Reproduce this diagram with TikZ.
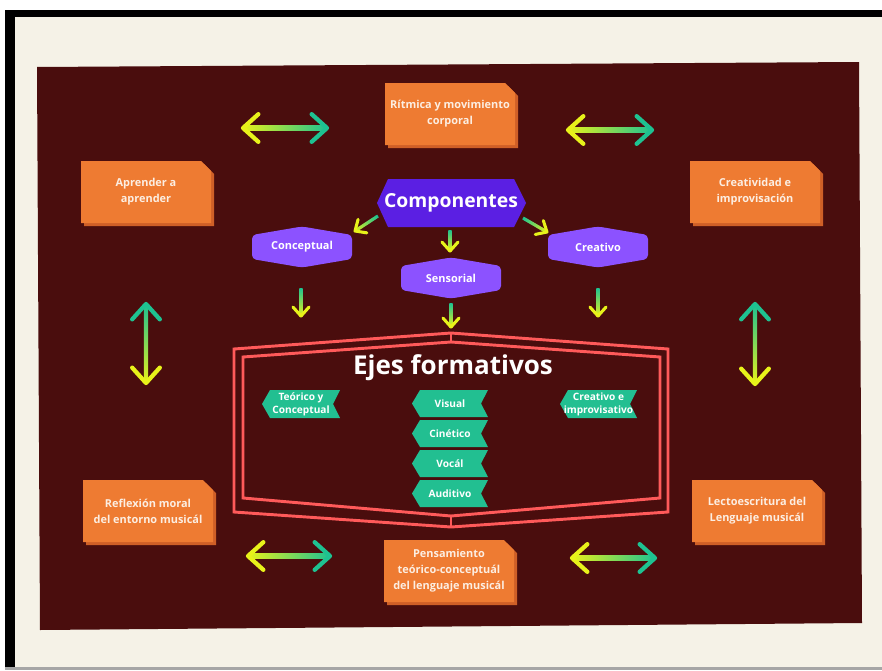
\documentclass[tikz,border=0pt]{standalone}
\usepackage{fontspec}
\setmainfont{Open Sans}
\usetikzlibrary{calc}
\definecolor{maroonbg}{HTML}{4A0D0D}
\definecolor{creambg}{HTML}{F5F2E7}
\definecolor{orng}{HTML}{EE7B32}
\definecolor{orngdark}{HTML}{CF5F27}
\definecolor{otxt}{HTML}{FCEEE2}
\definecolor{purp}{HTML}{5B1FE3}
\definecolor{lpurp}{HTML}{8C52FF}
\definecolor{tealc}{HTML}{22BF91}
\definecolor{ylw}{HTML}{E8F21A}
\definecolor{grn}{HTML}{1EC291}
\definecolor{redl}{HTML}{FF5A5A}

\newcommand\gradline[5]{%
  \foreach \i in {0,...,24}{%
    \pgfmathsetmacro\gpa{\i/25}%
    \pgfmathsetmacro\gpb{min((\i+1.6)/25,1)}%
    \pgfmathtruncatemacro\gpc{100-\i*4}%
    \draw[line width=#5, draw=#3!\gpc!#4] ($(#1)!\gpa!(#2)$) -- ($(#1)!\gpb!(#2)$);
  }}
\newcommand\arrowhead[5]{%
  \draw[line width=#4, draw=#3, line cap=round, line join=round]
    ($(#1)!#5!42:(#2)$) -- (#1) -- ($(#1)!#5!-42:(#2)$);}
\newcommand\hbiarrow[4]{% start, end, left colour, right colour
  \shade[left color=#3, right color=#4] ($(#1)+(0,-2.1)$) rectangle ($(#2)+(0,2.1)$);
  \arrowhead{#1}{#2}{#3}{3.2pt}{15.5pt}%
  \arrowhead{#2}{#1}{#4}{3.2pt}{15.5pt}}
\newcommand\vbiarrow[4]{% start(top), end(bottom), top colour, bottom colour
  \shade[top color=#3, bottom color=#4] ($(#1)+(-2.1,0)$) rectangle ($(#2)+(2.1,0)$);
  \arrowhead{#1}{#2}{#3}{3.2pt}{15.5pt}%
  \arrowhead{#2}{#1}{#4}{3.2pt}{15.5pt}}
\newcommand\oneway[2]{% tail, tip (diagonal)
  \gradline{#1}{#2}{grn}{ylw}{2.3pt}%
  \arrowhead{#2}{#1}{ylw}{2.3pt}{9pt}}
\newcommand\downway[2]{% tail, tip (vertical)
  \shade[top color=grn, bottom color=ylw] ($(#1)+(-1.55,0)$) rectangle ($(#2)+(1.55,0)$);
  \arrowhead{#2}{#1}{ylw}{2.3pt}{9pt}}
\newcommand\obox[4]{% name, cx, cy, text
  \fill[orngdark] (#2-62,#3-28) -- (#2+58,#3-28) -- (#2+68,#3-18) -- (#2+68,#3+34) -- (#2-62,#3+34) -- cycle;
  \fill[orng] (#2-65,#3-31) -- (#2+55,#3-31) -- (#2+65,#3-21) -- (#2+65,#3+31) -- (#2-65,#3+31) -- cycle;
  \node[otext] (#1) at (#2,#3) {#4};}
\newcommand\lhex[4]{% name, cx, cy, text
  \fill[lpurp, rounded corners=3pt] (#2-50,#3-12) -- (#2,#3-20.5) -- (#2+50,#3-12) -- (#2+50,#3+12) -- (#2,#3+20.5) -- (#2-50,#3+12) -- cycle;
  \node[ptext] (#1) at (#2,#3) {#4};}
\newcommand\ttag[6]{% name, L, R, T, B, text
  \fill[tealc] (#2,{(#4+#5)/2}) -- (#2+8,#4) -- (#3,#4) -- (#3-7,{(#4+#5)/2}) -- (#3,#5) -- (#2+8,#5) -- cycle;
  \node[ttext] (#1) at ({(#2+#3)/2},{(#4+#5)/2}) {#6};}

\begin{document}
\begin{tikzpicture}[x=0.75pt,y=-0.75pt,
  otext/.style={align=center, text=otxt, font=\bfseries\fontsize{8.2}{12}\selectfont, inner sep=0pt},
  ptext/.style={text=white, font=\bfseries\fontsize{8.2}{10}\selectfont, inner sep=0pt},
  ttext/.style={align=center, text=white, font=\bfseries\fontsize{7.6}{9.75}\selectfont, inner sep=0pt},
  frameline/.style={draw=redl, line width=2.2pt, line join=miter}]
\useasboundingbox (0,0) rectangle (882,671);
% paper and frame
\fill[white] (0,0) rectangle (882,671);
\fill[creambg] (15,17) rectangle (882,667);
\fill[black] (5,10) rectangle (882,17);
\fill[black] (5,10) rectangle (15,669);
\fill[gray!70] (5,667) rectangle (882,670);
\fill[maroonbg] (37,67) -- (859,62) -- (862,623) -- (40,630) -- cycle;

% orange boxes
\obox{rit}{450}{114}{Rítmica y movimiento\\corporal}
\obox{apr}{146}{192}{Aprender a\\aprender}
\obox{cre}{755}{192}{Creatividad e\\improvisación}
\obox{ref}{148}{511}{Reflexión moral\\del entorno musicál}
\obox{pen}{449}{571}{Pensamiento\\teórico-conceptuál\\del lenguaje musicál}
\obox{lec}{757}{511}{Lectoescritura del\\Lenguaje musicál}

% big double arrows
\coordinate (a1s) at (243,128); \coordinate (a1e) at (327,128);
\coordinate (a2s) at (568,130); \coordinate (a2e) at (652,130);
\coordinate (a3s) at (146,304); \coordinate (a3e) at (146,383);
\coordinate (a4s) at (755,304); \coordinate (a4e) at (755,384);
\coordinate (a5s) at (248,556); \coordinate (a5e) at (330,556);
\coordinate (a6s) at (572,558); \coordinate (a6e) at (655,558);
\hbiarrow{a1s}{a1e}{ylw}{grn}
\hbiarrow{a2s}{a2e}{ylw}{grn}
\vbiarrow{a3s}{a3e}{grn}{ylw}
\vbiarrow{a4s}{a4e}{grn}{ylw}
\hbiarrow{a5s}{a5e}{ylw}{grn}
\hbiarrow{a6s}{a6e}{ylw}{grn}

% Componentes
\fill[purp] (377,203) -- (388,179) -- (514,179) -- (526,203) -- (514,227) -- (388,227) -- cycle;
\node[text=white, font=\bfseries\fontsize{14.5}{16}\selectfont, inner sep=0pt] (comp) at (451,203) {Componentes};
\lhex{concep}{302}{247}{Conceptual}
\lhex{sens}{451}{278}{Sensorial}
\lhex{creat}{598}{247}{Creativo}

% small arrows
\coordinate (c1t) at (378,216); \coordinate (c1h) at (355,231);
\coordinate (c2t) at (450,230); \coordinate (c2h) at (450,251);
\coordinate (c3t) at (523,218); \coordinate (c3h) at (547,232);
\coordinate (d1t) at (301,288); \coordinate (d1h) at (301,316);
\coordinate (d2t) at (451,303); \coordinate (d2h) at (451,327);
\coordinate (d3t) at (598,288); \coordinate (d3h) at (598,316);
\oneway{c1t}{c1h}
\downway{c2t}{c2h}
\oneway{c3t}{c3h}
\downway{d1t}{d1h}
\downway{d2t}{d2h}
\downway{d3t}{d3h}

% Ejes formativos frame
\draw[frameline] (234,349) -- (451,333) -- (668,349) -- (668,512) -- (451,527) -- (234,512) -- cycle;
\draw[frameline] (243,357) -- (451,342) -- (660,357) -- (660,498) -- (451,516) -- (243,498) -- cycle;
\draw[frameline] (451,333) -- (451,342);
\draw[frameline] (451,516) -- (451,527);
\node[text=white, font=\bfseries\fontsize{19.5}{22}\selectfont, inner sep=0pt] (ejes) at (453,368) {Ejes formativos};

% teal tags
\ttag{teo}{262}{340}{390}{418}{Teórico y\\Conceptual}
\ttag{vis}{412}{488}{390}{417}{Visual}
\ttag{cin}{412}{488}{420}{447}{Cinético}
\ttag{voc}{412}{488}{450}{477}{Vocál}
\ttag{aud}{412}{488}{480}{507}{Auditivo}
\ttag{cimp}{560}{637}{390}{418}{Creativo e\\improvisativo}
\end{tikzpicture}
\end{document}
